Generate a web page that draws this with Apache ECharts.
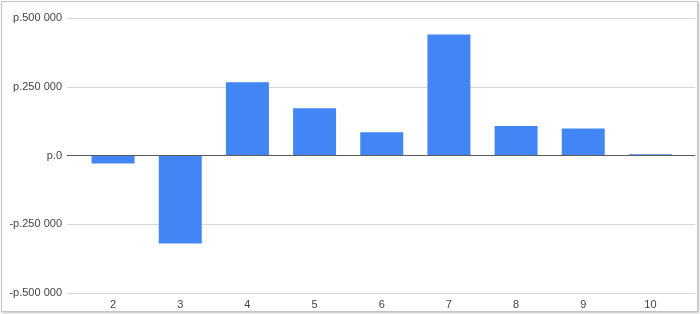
<!DOCTYPE html>
<html>
<head>
<meta charset="utf-8">
<script src="https://cdn.jsdelivr.net/npm/echarts@6/dist/echarts.min.js"></script>
<style>
html,body{margin:0;padding:0;background:#fff;}
#wrap{position:relative;width:700px;height:314px;overflow:hidden;}
#chart{position:absolute;left:0;top:0;width:700px;height:314px;}
#frame{position:absolute;left:1px;top:1px;width:695px;height:309px;border:1px solid #c4c4c4;box-shadow:1px 1px 2px rgba(0,0,0,0.25);pointer-events:none;}
</style>
</head>
<body>
<div id="wrap"><div id="chart"></div><div id="frame"></div></div>
<script>
var categories = ['2','3','4','5','6','7','8','9','10'];
var values = [-0.029, -0.32, 0.266, 0.172, 0.085, 0.44, 0.107, 0.098, 0.005];
var yTickValues = [-0.5, -0.25, 0, 0.25, 0.5];
var yTickLabels = ['-p.500 000', '-p.250 000', 'p.0', 'p.250 000', 'p.500 000'];

var font = 'Arial, "Liberation Sans", sans-serif';
var chart = echarts.init(document.getElementById('chart'), null, {renderer: 'canvas'});
chart.setOption({
  animation: false,
  backgroundColor: '#fff',
  grid: [
    {left: 67, right: 5, top: 18, bottom: 21},
    {left: 79.5, right: 16, top: 18, bottom: 21}
  ],
  xAxis: [
    {gridIndex: 0, type: 'value', min: 0, max: 1,
     axisLine: {show: true, onZero: true, lineStyle: {color: '#5a5a5a', width: 1}},
     axisTick: {show: false}, axisLabel: {show: false}, splitLine: {show: false}, z: 5},
    {gridIndex: 1, type: 'category', data: categories,
     axisLine: {show: false, onZero: false}, axisTick: {show: false},
     axisLabel: {margin: 6, color: '#444', fontSize: 11, fontFamily: font}}
  ],
  yAxis: [
    {gridIndex: 0, type: 'value', min: -0.5, max: 0.5, interval: 0.25,
     axisLine: {show: false}, axisTick: {show: false},
     axisLabel: {margin: 5, color: '#444', fontSize: 11, fontFamily: font,
       formatter: function (v) {
         for (var i = 0; i < yTickValues.length; i++) {
           if (Math.abs(yTickValues[i] - v) < 1e-9) return yTickLabels[i];
         }
         return '';
       }},
     splitLine: {lineStyle: {color: '#d6d6d6', width: 1}}},
    {gridIndex: 1, type: 'value', min: -0.5, max: 0.5, interval: 0.25, show: false}
  ],
  series: [{
    type: 'bar', xAxisIndex: 1, yAxisIndex: 1,
    data: values, barWidth: '64%',
    itemStyle: {color: '#4285f4'}, z: 2
  }]
});
</script>
</body>
</html>
